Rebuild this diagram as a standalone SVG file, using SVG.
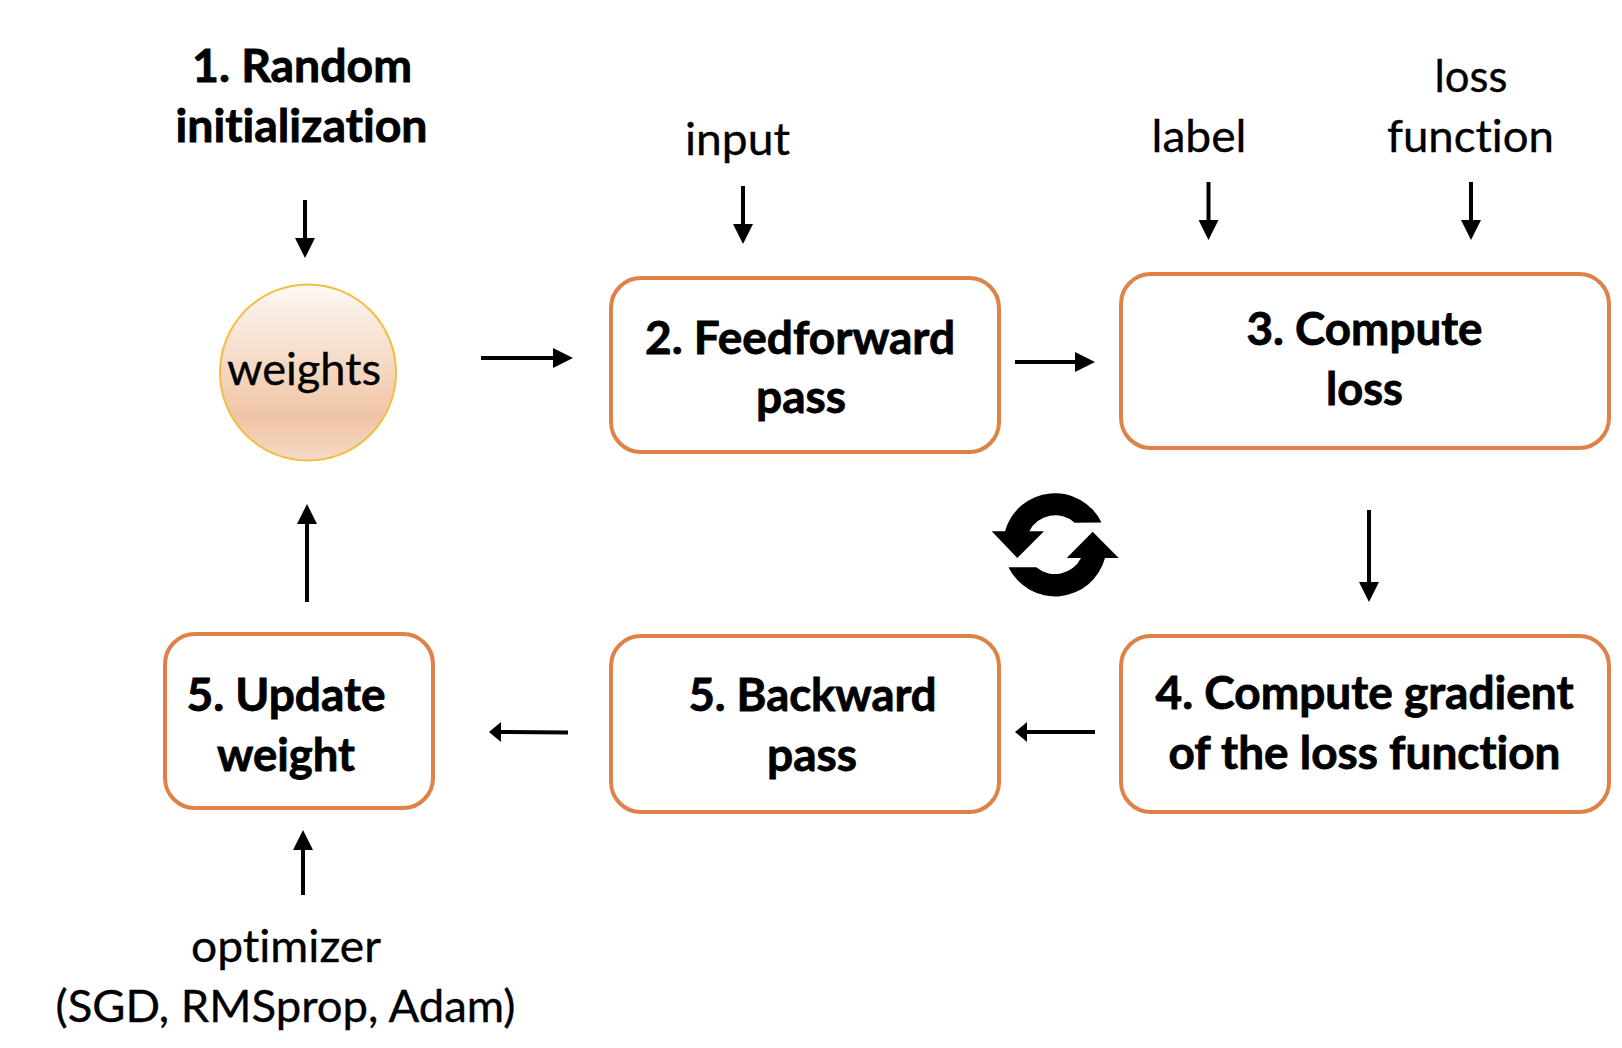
<svg xmlns="http://www.w3.org/2000/svg" width="1622" height="1048" viewBox="0 0 1622 1048">
<style>
text{font-family:Lato,"Liberation Sans",sans-serif;fill:#000;text-anchor:middle;font-size:45px;font-variant-ligatures:none;stroke:#000;stroke-width:.35px}
.b{font-weight:700;stroke-width:.8px}
.box{fill:#fff;stroke:#df8247;stroke-width:4}
.c{stroke:#000;stroke-width:4;fill:none;marker-end:url(#h)}
.s{marker-end:url(#hs)}
</style>
<defs>
<marker id="h" markerUnits="userSpaceOnUse" markerWidth="20" markerHeight="20" viewBox="0 -10 20 20" refX="0" refY="0" orient="auto"><path d="M0-10L20 0L0 10z" fill="#000"/></marker>
<marker id="hs" markerUnits="userSpaceOnUse" markerWidth="12" markerHeight="20" viewBox="0 -10 12 20" refX="0" refY="0" orient="auto"><path d="M0-10L12 0L0 10z" fill="#000"/></marker>
<linearGradient id="g" x1="0" y1="0" x2="0" y2="1"><stop offset="0" stop-color="#fdf8f4"/><stop offset=".76" stop-color="#f0c4a5"/><stop offset="1" stop-color="#f4dac8"/></linearGradient>
</defs>
<g id="connectors">
<line class="c" x1="305" y1="200" x2="305" y2="238"/>
<line class="c" x1="743" y1="186" x2="743" y2="224"/>
<line class="c" x1="1208.5" y1="182" x2="1208.5" y2="220"/>
<line class="c" x1="1471" y1="182" x2="1471" y2="220"/>
<line class="c" x1="481" y1="358" x2="553" y2="358"/>
<line class="c" x1="1015" y1="362" x2="1075" y2="362"/>
<line class="c" x1="1369" y1="510" x2="1369" y2="582"/>
<line class="c s" x1="1095" y1="732" x2="1027" y2="732"/>
<line class="c s" x1="568" y1="732.5" x2="501" y2="732"/>
<line class="c" x1="307" y1="602" x2="307" y2="524"/>
<line class="c" x1="303" y1="895" x2="303" y2="850"/>
</g>
<g id="sync"><path d="M1101.5 522.5A51.7 51.7 0 0 0 1005 531.3H991.7L1017.3 558L1044 531.3H1029.3A29 29 0 0 1 1074.7 522.7Z"/><path d="M1008.5 567.2H1036.3A29 29 0 0 0 1081 558H1066.7L1092.7 531.7L1118.7 558H1105A51.7 51.7 0 0 1 1008.5 567.2Z"/></g>
<g id="init"><text class="b" x="302" y="82" textLength="220" lengthAdjust="spacingAndGlyphs">1. Random</text><text class="b" x="301.5" y="142" textLength="252" lengthAdjust="spacingAndGlyphs">initialization</text></g>
<g id="weights"><circle cx="308" cy="372.5" r="88" fill="url(#g)" stroke="#f5bd3f" stroke-width="2"/><text x="304" y="385" textLength="154" lengthAdjust="spacingAndGlyphs">weights</text></g>
<g id="input"><text x="737.5" y="155" textLength="105" lengthAdjust="spacingAndGlyphs">input</text></g>
<g id="label"><text x="1199" y="152" textLength="95" lengthAdjust="spacingAndGlyphs">label</text></g>
<g id="lossfn"><text x="1471" y="92" textLength="73" lengthAdjust="spacingAndGlyphs">loss</text><text x="1470.5" y="152" textLength="167" lengthAdjust="spacingAndGlyphs">function</text></g>
<g id="forward"><rect class="box" x="611" y="278" width="388" height="174" rx="30"/><text class="b" x="800" y="353.5" textLength="310" lengthAdjust="spacingAndGlyphs">2. Feedforward</text><text class="b" x="801" y="412.5" textLength="90" lengthAdjust="spacingAndGlyphs">pass</text></g>
<g id="loss"><rect class="box" x="1121" y="274" width="488" height="174" rx="30"/><text class="b" x="1364.5" y="345" textLength="236" lengthAdjust="spacingAndGlyphs">3. Compute</text><text class="b" x="1364.5" y="405" textLength="77" lengthAdjust="spacingAndGlyphs">loss</text></g>
<g id="gradient"><rect class="box" x="1121" y="636" width="488" height="176" rx="30"/><text class="b" x="1364.5" y="708.5" textLength="418" lengthAdjust="spacingAndGlyphs">4. Compute gradient</text><text class="b" x="1364.5" y="768.5" textLength="392" lengthAdjust="spacingAndGlyphs">of the loss function</text></g>
<g id="backward"><rect class="box" x="611" y="636" width="388" height="176" rx="30"/><text class="b" x="812.5" y="710.5" textLength="248" lengthAdjust="spacingAndGlyphs">5. Backward</text><text class="b" x="812" y="770.5" textLength="90" lengthAdjust="spacingAndGlyphs">pass</text></g>
<g id="update"><rect class="box" x="165" y="634" width="268" height="174" rx="30"/><text class="b" x="286" y="710.5" textLength="199" lengthAdjust="spacingAndGlyphs">5. Update</text><text class="b" x="286" y="770.5" textLength="138" lengthAdjust="spacingAndGlyphs">weight</text></g>
<g id="optimizer"><text x="286" y="962" textLength="190" lengthAdjust="spacingAndGlyphs">optimizer</text><text x="285.5" y="1022" textLength="460" lengthAdjust="spacingAndGlyphs">(SGD, RMSprop, Adam)</text></g>
</svg>
